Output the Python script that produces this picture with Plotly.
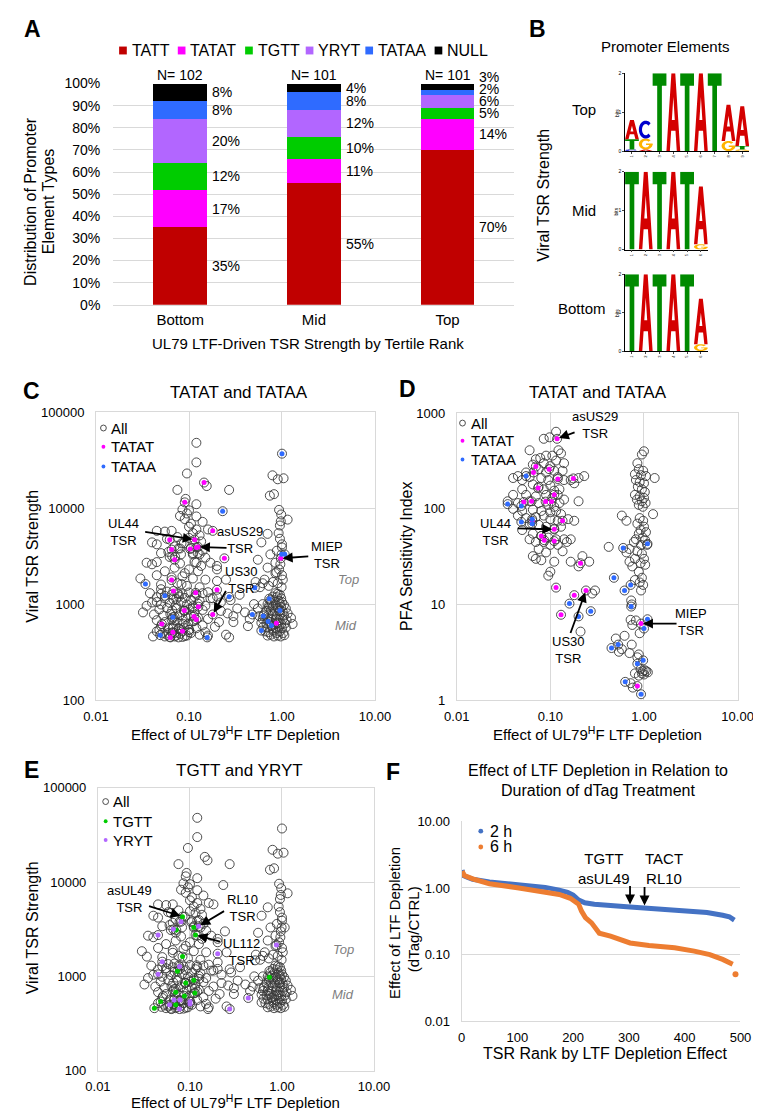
import numpy as np
import plotly.graph_objects as go

W, H = 761, 1116
FONT = "Liberation Sans, Arial, sans-serif"


def fx(px):
    return px / W


def fy(py):
    return 1 - py / H


# ---------------- panel A: element type distribution per tertile
tertiles = ["Bottom", "Mid", "Top"]
tertile_n = [102, 101, 101]
element_types = ["TATT", "TATAT", "TGTT", "YRYT", "TATAA", "NULL"]
element_colors = ["#C00000", "#FF00FF", "#00CC00", "#B266FF", "#2F6BFF", "#000000"]
pct_bottom = [35, 17, 12, 20, 8, 8]
pct_mid = [55, 11, 10, 12, 8, 4]
pct_top = [70, 14, 5, 6, 2, 3]

# ---------------- panel B: sequence logos (letter, bits) bottom -> top per position
logo_top = [[("C", 0.04), ("T", 0.26), ("A", 0.50)],
            [("A", 0.04), ("G", 0.28), ("C", 0.46)],
            [("T", 2.0)], [("A", 2.0)], [("T", 2.0)], [("A", 2.0)], [("T", 2.0)],
            [("G", 0.26), ("A", 0.93)],
            [("G", 0.04), ("T", 0.09), ("A", 1.02)]]
logo_mid = [[("T", 2.0)], [("A", 2.0)], [("T", 2.0)], [("A", 2.0)], [("T", 2.0)],
            [("G", 0.14), ("A", 1.48)]]
logo_bottom = [[("T", 2.0)], [("A", 2.0)], [("T", 2.0)], [("A", 2.0)], [("T", 2.0)],
               [("G", 0.18), ("A", 1.18)]]

# ---------------- panels C/E: (LTF depletion effect, viral TSR strength)
tsr_left_top = [
    (0.12, 48000), (0.12, 30000), (0.095, 23000), (0.155, 17000), (0.075, 15500), (0.27, 15500),
    (0.092, 12500), (0.12, 11000), (0.085, 9700), (0.1, 9500), (0.095, 8800), (0.08, 8300),
    (0.12, 8200), (0.09, 7700), (0.14, 7200), (0.105, 6900), (0.1, 6400), (0.16, 6000),
    (0.12, 6000), (0.045, 5800), (0.055, 5700), (0.065, 5800), (0.11, 5500), (0.13, 5200),
    (0.075, 5000), (0.058, 4800), (0.1, 4900), (0.135, 4500), (0.04, 4400), (0.045, 4200),
    (0.088, 4300), (0.07, 4000), (0.077, 3800), (0.105, 3850), (0.14, 3600), (0.05, 3400),
    (0.06, 3500), (0.082, 3300), (0.11, 3400), (0.13, 3300), (0.062, 3100), (0.15, 3050),
    (0.035, 2700), (0.04, 2600), (0.08, 2650), (0.12, 2700), (0.135, 2500), (0.07, 2400),
    (0.1, 2300), (0.055, 2200), (0.09, 2100), (0.125, 2200), (0.045, 2000), (0.085, 1950),
    (0.2, 2300), (0.17, 2700), (0.065, 1900), (0.11, 1850), (0.15, 1800), (0.2, 2500),
    (0.25, 1800), (0.03, 1850), (0.05, 1600), (0.075, 1650), (0.095, 1550), (0.13, 1500),
]
tsr_right_top = [
    (0.79, 22000), (0.9, 20000), (1.04, 20500), (0.74, 13500), (0.82, 14000), (0.93, 9600),
    (0.98, 8600), (1.15, 7600), (0.97, 7300), (0.95, 6600), (0.92, 5500), (0.7, 5400),
    (0.95, 4800), (0.6, 4400), (1.0, 4200), (0.88, 3600), (1.0, 3900), (0.75, 3300),
    (0.55, 2900), (0.85, 2700), (0.96, 2600), (0.7, 2400), (0.93, 2300), (0.85, 2100),
    (1.0, 2000), (1.02, 1800), (0.65, 1800), (0.8, 1700), (0.9, 1650), (0.62, 1650),
    (0.52, 1700), (0.58, 1500), (0.72, 1550), (0.99, 1500),
]
tsr_left_mid = [
    (0.038, 1300), (0.05, 1280), (0.058, 1350), (0.065, 1250), (0.075, 1300), (0.085, 1270),
    (0.1, 1320), (0.12, 1260), (0.14, 1300), (0.16, 1330), (0.045, 1180), (0.055, 1150),
    (0.068, 1120), (0.078, 1200), (0.09, 1160), (0.105, 1100), (0.115, 1190), (0.13, 1080),
    (0.17, 1150), (0.2, 1200), (0.04, 1040), (0.05, 990), (0.062, 1030), (0.072, 970),
    (0.082, 1060), (0.095, 990), (0.11, 950), (0.125, 1010), (0.15, 960), (0.22, 1040),
    (0.035, 960), (0.048, 880), (0.058, 910), (0.066, 860), (0.074, 900), (0.088, 850),
    (0.1, 880), (0.115, 830), (0.14, 870), (0.032, 820), (0.042, 780), (0.053, 760),
    (0.063, 790), (0.07, 740), (0.08, 770), (0.092, 730), (0.105, 760), (0.125, 720),
    (0.16, 700), (0.045, 680), (0.055, 650), (0.065, 690), (0.075, 640), (0.085, 670),
    (0.098, 620), (0.11, 660), (0.14, 600), (0.19, 580), (0.05, 590), (0.06, 560),
    (0.068, 580), (0.078, 550), (0.088, 570), (0.1, 540), (0.12, 560), (0.15, 510),
    (0.045, 520), (0.052, 500), (0.058, 480), (0.066, 500), (0.072, 470), (0.08, 490),
    (0.09, 465), (0.105, 500), (0.13, 480), (0.16, 470), (0.055, 460), (0.062, 455),
    (0.07, 460), (0.085, 455), (0.095, 470),
]
tsr_gap_mid = [
    (0.18, 1150), (0.28, 1100), (0.35, 1250), (0.22, 850), (0.26, 800), (0.33, 900),
    (0.4, 820), (0.3, 750), (0.45, 700), (0.21, 650), (0.3, 650), (0.25, 480),
    (0.5, 1000), (0.55, 900), (0.57, 750),
]
tsr_right_mid = [
    (0.85, 1300), (0.9, 1280), (0.95, 1250), (0.8, 1200), (0.88, 1180), (0.98, 1150),
    (0.75, 1100), (0.83, 1100), (0.92, 1080), (1.0, 1050), (0.7, 1000), (0.78, 1020),
    (0.86, 990), (0.95, 1000), (1.05, 980), (0.72, 920), (0.8, 940), (0.9, 910),
    (0.98, 930), (1.1, 900), (0.68, 850), (0.76, 860), (0.84, 840), (0.93, 850),
    (1.02, 830), (0.64, 780), (0.72, 770), (0.8, 790), (0.88, 760), (0.96, 780),
    (1.05, 760), (1.25, 720), (0.62, 700), (0.7, 710), (0.78, 690), (0.86, 700),
    (0.94, 680), (1.02, 700), (1.12, 680), (0.6, 640), (0.68, 630), (0.75, 650),
    (0.82, 620), (0.9, 640), (0.98, 620), (1.08, 630), (0.63, 580), (0.7, 570),
    (0.78, 590), (0.85, 560), (0.93, 580), (1.0, 560), (1.1, 570), (0.66, 520),
    (0.72, 510), (0.8, 530), (0.88, 500), (0.95, 520), (1.03, 500), (0.7, 470),
    (0.76, 480), (0.82, 460), (0.9, 470), (0.97, 460), (1.06, 475), (1.15, 800),
    (1.3, 620), (0.62, 1000),
]
tatat_c = [
    (0.145, 18500), (0.09, 11500), (0.18, 5800), (0.062, 4700), (0.115, 4700), (0.065, 3700),
    (0.103, 3750), (0.12, 3900), (0.125, 3950), (0.07, 2900), (0.24, 3000), (0.97, 3000),
    (0.065, 1780), (0.068, 1370), (0.118, 1310), (0.2, 1410), (0.126, 940), (0.089, 860),
    (0.113, 745), (0.12, 690), (0.18, 780), (0.051, 620), (0.067, 510), (0.085, 520),
    (0.063, 450), (0.87, 630),
]
tataa_c = [
    (1.0, 37000), (0.23, 9300), (0.99, 3300), (1.07, 3300), (0.51, 1480), (0.034, 1620),
    (0.055, 1220), (0.27, 1190), (0.48, 780), (0.73, 1140), (0.95, 860), (0.63, 750),
    (0.71, 660), (0.6, 530), (0.067, 730), (0.049, 475), (0.157, 450), (0.77, 600),
]
tgtt_e = [
    (0.083, 4300), (0.071, 3100), (0.11, 3300), (0.115, 2750), (0.083, 1620), (0.073, 1130),
    (0.11, 910), (0.09, 850), (0.113, 665), (0.087, 620), (0.07, 680), (0.07, 500),
    (0.041, 460), (0.048, 540), (0.73, 980),
]
yryt_e = [
    (0.124, 3400), (0.08, 3800), (0.066, 3150), (0.045, 2740), (0.2, 1740), (0.05, 1430),
    (0.077, 1270), (0.045, 1050), (0.87, 2150), (0.43, 590), (0.27, 450), (0.067, 560),
    (0.078, 560), (0.1, 540), (0.1, 510), (0.077, 450), (0.06, 500),
]

# ---------------- panel D: (LTF depletion effect, PFA sensitivity index)
pfa_left = [
    (0.115, 640), (0.098, 560), (0.06, 410), (0.122, 410), (0.105, 360), (0.09, 360),
    (0.078, 340), (0.07, 330), (0.13, 380), (0.115, 320), (0.14, 300), (0.085, 300),
    (0.065, 290), (0.1, 280), (0.075, 260), (0.135, 250), (0.11, 250), (0.09, 240),
    (0.055, 240), (0.045, 220), (0.04, 210), (0.05, 200), (0.06, 215), (0.08, 210),
    (0.095, 200), (0.12, 215), (0.14, 200), (0.165, 200), (0.18, 185), (0.065, 180),
    (0.075, 170), (0.085, 160), (0.1, 175), (0.11, 155), (0.125, 160), (0.05, 160),
    (0.04, 140), (0.055, 140), (0.07, 135), (0.09, 140), (0.105, 130), (0.12, 140),
    (0.035, 120), (0.045, 115), (0.06, 120), (0.075, 115), (0.095, 110), (0.11, 105),
    (0.125, 115), (0.14, 125), (0.2, 120), (0.04, 100), (0.05, 95), (0.065, 98),
    (0.08, 95), (0.1, 92), (0.115, 95), (0.13, 88), (0.045, 85), (0.055, 80),
    (0.07, 82), (0.085, 85), (0.1, 78), (0.12, 75), (0.155, 78), (0.18, 75),
    (0.06, 70), (0.075, 68), (0.09, 65), (0.11, 62), (0.13, 65), (0.05, 60),
    (0.065, 55), (0.08, 52), (0.095, 50), (0.115, 48), (0.14, 48), (0.06, 48),
    (0.07, 45), (0.085, 45), (0.1, 42), (0.12, 42), (0.075, 38), (0.09, 35),
    (0.065, 32), (0.07, 30), (0.08, 29), (0.11, 28), (0.135, 36), (0.165, 48),
    (0.165, 28), (0.2, 25), (0.22, 32), (0.26, 28), (0.1, 22), (0.095, 20),
    (0.23, 220), (0.2, 210), (0.15, 45), (0.085, 540),
]
pfa_low = [(0.3, 14), (0.21, 5.2), (0.28, 13)]
pfa_right = [
    (1.0, 400), (0.95, 370), (0.85, 300), (0.88, 260), (0.98, 250), (0.8, 230),
    (0.93, 225), (1.05, 220), (1.3, 210), (0.82, 200), (0.9, 190), (1.0, 185),
    (0.86, 170), (0.95, 160), (1.02, 150), (0.8, 140), (0.9, 135), (1.0, 130),
    (0.84, 125), (0.95, 120), (1.04, 115), (0.88, 110), (0.97, 105), (1.25, 88),
    (0.58, 85), (0.65, 75), (0.9, 80), (0.98, 75), (0.85, 70), (1.0, 65),
    (0.92, 60), (1.05, 57), (0.88, 55), (0.97, 50), (0.82, 48), (1.03, 47),
    (0.78, 45), (0.93, 42), (1.08, 42), (0.7, 38), (0.85, 36), (0.95, 34),
    (1.0, 30), (0.8, 30), (0.92, 27), (1.03, 26), (0.75, 25), (0.88, 22),
    (0.95, 19), (0.8, 18), (0.9, 17), (0.98, 16), (0.42, 40), (0.65, 35),
    (0.7, 28), (0.93, 14), (0.73, 11), (0.74, 10), (0.72, 6.9), (0.75, 6.1),
    (0.82, 6.8), (0.9, 5), (0.5, 4.4), (0.62, 4.7), (0.54, 3.2), (0.58, 3.4),
    (0.74, 3.8), (0.7, 3.1), (0.88, 3.0), (0.85, 2.8), (0.92, 2.1), (0.97, 2.0),
    (1.02, 2.05), (1.06, 2.0), (0.95, 1.9), (0.8, 1.9), (0.88, 1.8), (1.0, 1.85),
    (0.72, 1.5), (0.76, 1.35), (1.1, 1.95),
]
pfa_tatat = [
    (0.118, 540), (0.07, 277), (0.066, 240), (0.097, 260), (0.12, 205), (0.176, 208),
    (0.074, 165), (0.11, 140), (0.052, 118), (0.063, 120), (0.089, 119), (0.103, 119),
    (0.064, 75), (0.135, 75), (0.11, 61), (0.08, 52), (0.086, 47), (0.11, 46),
    (0.21, 27), (0.115, 15), (0.18, 12.5), (0.24, 14), (0.13, 7.8), (0.93, 6.3), (0.85, 1.4),
]
pfa_tataa = [
    (0.055, 220), (0.035, 112), (0.049, 107), (0.049, 73), (0.064, 78), (0.064, 70),
    (1.09, 43), (0.6, 39), (0.16, 10.2), (0.2, 7.5), (0.27, 8.5), (0.477, 19),
    (0.62, 14), (0.72, 16), (0.73, 9.5), (1.09, 7), (1.0, 5.6), (0.53, 3.8),
    (0.45, 3.5), (0.98, 2.6), (0.85, 2.4), (0.63, 1.55), (0.93, 1.15),
]

# ---------------- panel F: ranked depletion effect, 2 h vs 6 h dTag
rank_2h = [1, 3, 10, 20, 50, 100, 150, 175, 190, 200, 210, 221, 238, 302, 382, 440, 468, 480, 489]
effect_2h = [1.86, 1.54, 1.45, 1.35, 1.23, 1.13, 1.02, 0.93, 0.86, 0.78, 0.66, 0.60, 0.57,
             0.52, 0.47, 0.43, 0.39, 0.37, 0.33]
rank_6h = [1, 5, 20, 50, 100, 150, 175, 195, 205, 210, 215, 222, 233, 247, 267, 302, 336,
           382, 417, 445, 468, 486, 491]
effect_6h = [1.78, 1.54, 1.37, 1.16, 1.01, 0.87, 0.80, 0.70, 0.62, 0.57, 0.45, 0.36, 0.30,
             0.21, 0.19, 0.15, 0.137, 0.127, 0.113, 0.10, 0.085, 0.072, 0.051]

LOGO_COLORS = {"A": "#D40000", "T": "#008A00", "C": "#0000CC", "G": "#FFB300"}

fig = go.Figure()
shapes = []
ann = []


def text(s, px, py, size=15, color="#000", xanchor="center", angle=0, bold=False, italic=False):
    if bold:
        s = f"<b>{s}</b>"
    if italic:
        s = f"<i>{s}</i>"
    ann.append(dict(text=s, x=fx(px), y=fy(py), xref="paper", yref="paper", showarrow=False,
                    xanchor=xanchor, yanchor="middle", textangle=angle,
                    font=dict(size=size, color=color, family=FONT)))


def arrow(xa, ya, xv, yv, ax, ay, logx=True, logy=True):
    ann.append(dict(text="", x=np.log10(xv) if logx else xv, y=np.log10(yv) if logy else yv,
                    xref=xa, yref=ya, ax=ax, ay=ay, axref="pixel", ayref="pixel",
                    showarrow=True, arrowhead=2, arrowsize=1.1, arrowwidth=1.8,
                    arrowcolor="#000", standoff=2))


def dot(cx, cy, r, color, open_=False):
    shapes.append(dict(type="circle", xref="paper", yref="paper",
                       x0=fx(cx - r), x1=fx(cx + r), y0=fy(cy + r), y1=fy(cy - r),
                       fillcolor="rgba(0,0,0,0)" if open_ else color,
                       line=dict(color=color, width=0.9 if open_ else 0)))


# ---------- A: stacked bars
for k, name in enumerate(element_types):
    vals = [pct_bottom[k], pct_mid[k], pct_top[k]]
    fig.add_trace(go.Bar(x=tertiles, y=vals, marker_color=element_colors[k], name=name,
                         marker_line_width=0, xaxis="x", yaxis="y", showlegend=False))

A_LEFT, A_RIGHT, A_TOP, A_BOTTOM = 96, 513, 68.5, 293
A_STEP = (A_RIGHT - A_LEFT) / 3
BAR_HALF = A_STEP * 0.4 / 2


def label_heights(pcts, gap=5.5):
    pcts = np.array(pcts, dtype=float)
    mids = np.cumsum(pcts) - pcts / 2
    out, prev = [], -1e9
    for m in mids:
        y = max(m, prev + gap)
        out.append(y)
        prev = y
    return out


def a_py(v):
    return A_BOTTOM - (A_BOTTOM - A_TOP) * v / 100


for i, pcts in enumerate([pct_bottom, pct_mid, pct_top]):
    cx = A_LEFT + A_STEP * (i + 0.5)
    for p, yy in zip(pcts, label_heights(pcts)):
        text(f"{p}%", cx + BAR_HALF + 3, a_py(yy), size=14, xanchor="left")
    text(f"N= {tertile_n[i]}", cx, 60, size=14)

legend_x = [106, 167, 237, 300, 362, 434]
for name, color, lx in zip(element_types, element_colors, legend_x):
    shapes.append(dict(type="rect", xref="paper", yref="paper", x0=fx(lx - 4), x1=fx(lx + 4),
                       y0=fy(39), y1=fy(31), fillcolor=color, line=dict(width=0)))
    text(name, lx + 7, 35, size=16, xanchor="left")

text("Distribution of Promoter", 10, 188, size=16, angle=-90)
text("Element Types", 28, 188, size=16, angle=-90)
text("UL79 LTF-Driven TSR Strength by Tertile Rank", 298, 332, size=15)

# ---------- B: sequence logos


def poly(pts, x0, x1, y0, y1):
    w, h = x1 - x0, y1 - y0
    return "M " + " L ".join(f"{x0 + u * w:.4f},{y0 + v * h:.4f}" for u, v in pts) + " Z"


def ring(a0, a1, n=36):
    t = np.radians(np.linspace(a0, a1, n))
    outer = [(0.5 + 0.5 * np.cos(a), 0.5 + 0.5 * np.sin(a)) for a in t]
    inner = [(0.5 + 0.27 * np.cos(a), 0.5 + 0.31 * np.sin(a)) for a in t[::-1]]
    return outer + inner


def glyph(letter, x0, x1, y0, y1):
    if letter == "T":
        pts = [(0, 1), (1, 1), (1, 0.84), (0.67, 0.84), (0.67, 0), (0.33, 0), (0.33, 0.84), (0, 0.84)]
        return [(poly(pts, x0, x1, y0, y1), "nonzero")]
    if letter == "A":
        outer = [(0, 0), (0.36, 1), (0.64, 1), (1, 0), (0.75, 0), (0.656, 0.26), (0.344, 0.26), (0.25, 0)]
        hole = [(0.394, 0.40), (0.5, 0.694), (0.606, 0.40)]
        return [(poly(outer, x0, x1, y0, y1) + " " + poly(hole, x0, x1, y0, y1), "evenodd")]
    if letter == "C":
        return [(poly(ring(45, 315), x0, x1, y0, y1), "nonzero")]
    bar = [(0.52, 0.40), (1.0, 0.40), (1.0, 0.54), (0.52, 0.54)]
    return [(poly(ring(45, 355), x0, x1, y0, y1), "nonzero"), (poly(bar, x0, x1, y0, y1), "nonzero")]


for cols, xa, ya in [(logo_top, "x2", "y2"), (logo_mid, "x3", "y3"), (logo_bottom, "x4", "y4")]:
    fig.add_trace(go.Scatter(x=[1], y=[0], mode="markers", marker=dict(opacity=0),
                             xaxis=xa, yaxis=ya, showlegend=False, hoverinfo="skip"))
    for i, col in enumerate(cols, start=1):
        base = 0.0
        for letter, h in col:
            for path, rule in glyph(letter, i - 0.5, i + 0.5, base, base + h):
                shapes.append(dict(type="path", path=path, xref=xa, yref=ya,
                                   fillcolor=LOGO_COLORS[letter], line=dict(width=0), fillrule=rule))
            base += h

text("Promoter Elements", 670, 31, size=15)
text("Top", 585, 95, size=15)
text("Mid", 585, 197, size=15)
text("Bottom", 583, 297, size=15)
text("Viral TSR Strength", 543, 182, size=16, angle=-90)
for yc in [98, 198, 301]:
    text("bits", 619, yc, size=5, angle=-90)


# ---------- C, D, E scatter panels
def xy(pts):
    return [p[0] for p in pts], [p[1] for p in pts]


OPEN = dict(symbol="circle-open", size=9, color="#3a3a3a", line=dict(width=0.9))

all_tsr = tsr_left_top + tsr_right_top + tsr_left_mid + tsr_gap_mid + tsr_right_mid \
    + tatat_c + tataa_c + tgtt_e + yryt_e
all_pfa = pfa_left + pfa_low + pfa_right + pfa_tatat + pfa_tataa

panels = [
    ("x5", "y5", all_tsr, [(tatat_c, "#FF00FF"), (tataa_c, "#2F6BFF")]),
    ("x6", "y6", all_pfa, [(pfa_tatat, "#FF00FF"), (pfa_tataa, "#2F6BFF")]),
    ("x7", "y7", all_tsr, [(tgtt_e, "#00CC00"), (yryt_e, "#B266FF")]),
]
for xa, ya, pts, subsets in panels:
    x, y = xy(pts)
    fig.add_trace(go.Scatter(x=x, y=y, mode="markers", marker=OPEN, xaxis=xa, yaxis=ya,
                             showlegend=False, hoverinfo="skip"))
    for sub, color in subsets:
        x, y = xy(sub)
        fig.add_trace(go.Scatter(x=x, y=y, mode="markers", marker=dict(size=5, color=color),
                                 xaxis=xa, yaxis=ya, showlegend=False, hoverinfo="skip"))

depletion_cut = 0.47
strength_cut = 1350
for xa, ya, hline in [("x5", "y5", True), ("x6", "y6", False), ("x7", "y7", True)]:
    shapes.append(dict(type="line", xref=xa, yref=ya + " domain", x0=np.log10(depletion_cut),
                       x1=np.log10(depletion_cut), y0=0, y1=1,
                       line=dict(color="#555555", width=1, dash="dot")))
    if hline:
        shapes.append(dict(type="line", xref=xa + " domain", yref=ya, x0=0, x1=1,
                           y0=np.log10(strength_cut), y1=np.log10(strength_cut),
                           line=dict(color="#a6a6a6", width=1, dash="dash")))

xtitle = "Effect of UL79<sup>H</sup>F LTF Depletion"
# C
text("TATAT and TATAA", 227, 382, size=17)
text("Viral TSR Strength", 12, 548, size=16, angle=-90)
text(xtitle, 223, 728, size=15)
text("Top", 340, 572, size=13, color="#7f7f7f", italic=True)
text("Mid", 338, 618, size=13, color="#7f7f7f", italic=True)
dot(85.7, 418, 3, "#3a3a3a", open_=True)
dot(85.7, 437, 2, "#FF00FF")
dot(85.7, 457, 2, "#2F6BFF")
text("All", 92, 418, xanchor="left")
text("TATAT", 92, 437, xanchor="left")
text("TATAA", 92, 457, xanchor="left")
for s, px, py in [("UL44<br>TSR", 107, 524), ("asUS29<br>TSR", 228, 532),
                  ("MIEP<br>TSR", 318, 547), ("US30<br>TSR", 229, 572)]:
    text(s, px, py, size=13)
arrow("x5", "y5", 0.115, 4700, -51, -8)
arrow("x5", "y5", 0.125, 3950, 30, 1)
arrow("x5", "y5", 0.97, 3000, 29, -2)
arrow("x5", "y5", 0.18, 780, 14, -25)
# D
text("TATAT and TATAA", 600, 382, size=17)
text("PFA Sensitivity Index", 400, 548, size=16, angle=-90)
text(xtitle, 599, 728, size=15)
dot(459, 413, 3, "#3a3a3a", open_=True)
dot(459, 431, 2, "#FF00FF")
dot(459, 450, 2, "#2F6BFF")
text("All", 466, 413, xanchor="left")
text("TATAT", 466, 431, xanchor="left")
text("TATAA", 466, 450, xanchor="left")
for s, px, py in [("asUS29<br>TSR", 597, 415), ("UL44<br>TSR", 493, 523),
                  ("US30<br>TSR", 569, 643), ("MIEP<br>TSR", 697, 615)]:
    text(s, px, py, size=13)
arrow("x6", "y6", 0.118, 540, 19, -7)
arrow("x6", "y6", 0.11, 61, -38, -1)
arrow("x6", "y6", 0.24, 14, -16, 44)
arrow("x6", "y6", 0.93, 6.3, 37, 0)
# E
text("TGTT and YRYT", 227, 765, size=17)
text("Viral TSR Strength", 12, 925, size=16, angle=-90)
text(xtitle, 223, 1101, size=15)
text("Top", 335, 947, size=13, color="#7f7f7f", italic=True)
text("Mid", 335, 993, size=13, color="#7f7f7f", italic=True)
dot(88, 797, 3, "#3a3a3a", open_=True)
dot(88, 817, 2, "#00CC00")
dot(88, 836, 2, "#B266FF")
text("All", 94, 797, xanchor="left")
text("TGTT", 94, 817, xanchor="left")
text("YRYT", 94, 836, xanchor="left")
for s, px, py in [("asUL49<br>TSR", 113, 896), ("RL10<br>TSR", 230, 905),
                  ("UL112<br>TSR", 229, 950)]:
    text(s, px, py, size=13)
arrow("x7", "y7", 0.083, 4300, -35, -11)
arrow("x7", "y7", 0.124, 3400, 27, -16)
arrow("x7", "y7", 0.115, 2750, 26, 7)

# ---------- F: ranked curves
fig.add_trace(go.Scatter(x=rank_2h, y=effect_2h, mode="lines", line=dict(color="#4472C4", width=5),
                         xaxis="x8", yaxis="y8", showlegend=False, hoverinfo="skip"))
fig.add_trace(go.Scatter(x=rank_6h[:-1], y=effect_6h[:-1], mode="lines",
                         line=dict(color="#ED7D31", width=5),
                         xaxis="x8", yaxis="y8", showlegend=False, hoverinfo="skip"))
fig.add_trace(go.Scatter(x=rank_6h[-1:], y=effect_6h[-1:], mode="markers",
                         marker=dict(color="#ED7D31", size=6),
                         xaxis="x8", yaxis="y8", showlegend=False, hoverinfo="skip"))
text("Effect of LTF Depletion in Relation to", 600, 765, size=16)
text("Duration of dTag Treatment", 600, 786, size=16)
text("Effect of LTF Depletion", 389, 920, size=15, angle=-90)
text("(dTag/CTRL)", 408, 926, size=15, angle=-90)
text("TSR Rank by LTF Depletion Effect", 608, 1053, size=16)
dot(478, 827, 2.5, "#4472C4")
dot(478, 843, 2.5, "#ED7D31")
text("2 h", 486, 827, size=16, xanchor="left")
text("6 h", 486, 843, size=16, xanchor="left")
text("TGTT<br>asUL49", 635, 865, size=15, xanchor="right")
text("TACT<br>RL10", 647, 865, size=15, xanchor="left")
arrow("x8", "y8", 302, 0.53, 0, -22, logx=False)
arrow("x8", "y8", 328, 0.51, 0, -22, logx=False)

# ---------- panel letters
for s, px, py in [("A", 12, 13), ("B", 537, 13), ("C", 11, 380), ("D", 402, 378),
                  ("E", 11, 765), ("F", 387, 767)]:
    text(s, px, py, size=23, bold=True)

# ---------- axes
GRID = "#d9d9d9"
TICKF = dict(size=13, color="#000", family=FONT)


def log_axes(xd, yd, xa, ya, yr, yvals, ytext):
    xaxis = dict(domain=xd, anchor=ya, type="log", range=[-2, 1], tickvals=[0.01, 0.1, 1, 10],
                 ticktext=["0.01", "0.10", "1.00", "10.00"], showgrid=True, gridcolor=GRID,
                 zeroline=False, showline=True, linecolor=GRID, mirror=True, ticks="",
                 tickfont=TICKF, ticklabelstandoff=4)
    yaxis = dict(domain=yd, anchor=xa, type="log", range=yr, tickvals=yvals, ticktext=ytext,
                 showgrid=True, gridcolor=GRID, zeroline=False, showline=True, linecolor=GRID,
                 mirror=True, ticks="", tickfont=TICKF, ticklabelstandoff=8)
    return xaxis, yaxis


def logo_axes(xd, yd, n, xa, ya):
    xaxis = dict(domain=xd, anchor=ya, range=[0.5, n + 0.5], tickvals=list(range(1, n + 1)),
                 showgrid=False, zeroline=False, showline=True, linecolor="#000", linewidth=0.5,
                 ticks="outside", ticklen=2, tickwidth=0.5, tickfont=dict(size=4), tickangle=-90)
    yaxis = dict(domain=yd, anchor=xa, range=[0, 2], tickvals=[0, 1, 2], showgrid=False,
                 zeroline=False, showline=True, linecolor="#000", linewidth=0.5, ticks="outside",
                 ticklen=2, tickwidth=0.5, tickfont=dict(size=5))
    return xaxis, yaxis


x2, y2 = logo_axes([fx(628), fx(757)], [fy(137), fy(58)], 9, "x2", "y2")
x3, y3 = logo_axes([fx(628), fx(714)], [fy(237), fy(158)], 6, "x3", "y3")
x4, y4 = logo_axes([fx(628), fx(714)], [fy(340), fy(262)], 6, "x4", "y4")
x5, y5 = log_axes([fx(78), fx(368)], [fy(694), fy(402)], "x5", "y5", [2, 5],
                  [100, 1000, 10000, 100000], ["100", "1000", "10000", "100000"])
x6, y6 = log_axes([fx(453), fx(745)], [fy(694), fy(403)], "x6", "y6", [0, 3],
                  [1, 10, 100, 1000], ["1", "10", "100", "1000"])
x7, y7 = log_axes([fx(80), fx(367)], [fy(1070), fy(783)], "x7", "y7", [2, 5],
                  [100, 1000, 10000, 100000], ["100", "1000", "10000", "100000"])

fig.update_layout(
    width=W, height=H, margin=dict(l=0, r=0, t=0, b=0),
    paper_bgcolor="white", plot_bgcolor="white",
    font=dict(family=FONT, color="#000"),
    barmode="stack", bargap=0.6, hovermode=False,
    xaxis=dict(domain=[fx(A_LEFT), fx(A_RIGHT)], anchor="y", type="category", showgrid=False,
               showline=True, linecolor=GRID, ticks="", tickfont=dict(size=15, color="#000"),
               ticklabelstandoff=1),
    yaxis=dict(domain=[fy(A_BOTTOM), fy(A_TOP)], anchor="x", range=[0, 100],
               tickvals=list(range(0, 101, 10)), ticktext=[f"{v}%" for v in range(0, 101, 10)],
               showgrid=True, gridcolor=GRID, zeroline=False, ticks="",
               tickfont=dict(size=14, color="#000"), ticklabelstandoff=12),
    xaxis2=x2, yaxis2=y2, xaxis3=x3, yaxis3=y3, xaxis4=x4, yaxis4=y4,
    xaxis5=x5, yaxis5=y5, xaxis6=x6, yaxis6=y6, xaxis7=x7, yaxis7=y7,
    xaxis8=dict(domain=[fx(458), fx(748)], anchor="y8", range=[0, 500],
                tickvals=[0, 100, 200, 300, 400, 500], showgrid=False, zeroline=False,
                showline=True, linecolor=GRID, ticks="", tickfont=TICKF, ticklabelstandoff=4),
    yaxis8=dict(domain=[fy(1020), fy(817)], anchor="x8", type="log", range=[-2, 1],
                tickvals=[0.01, 0.1, 1, 10], ticktext=["0.01", "0.10", "1.00", "10.00"],
                showgrid=True, gridcolor=GRID, zeroline=False, showline=True, linecolor=GRID,
                ticks="", tickfont=TICKF, ticklabelstandoff=8),
    shapes=shapes,
    annotations=ann,
)

fig.write_html("out.html")
